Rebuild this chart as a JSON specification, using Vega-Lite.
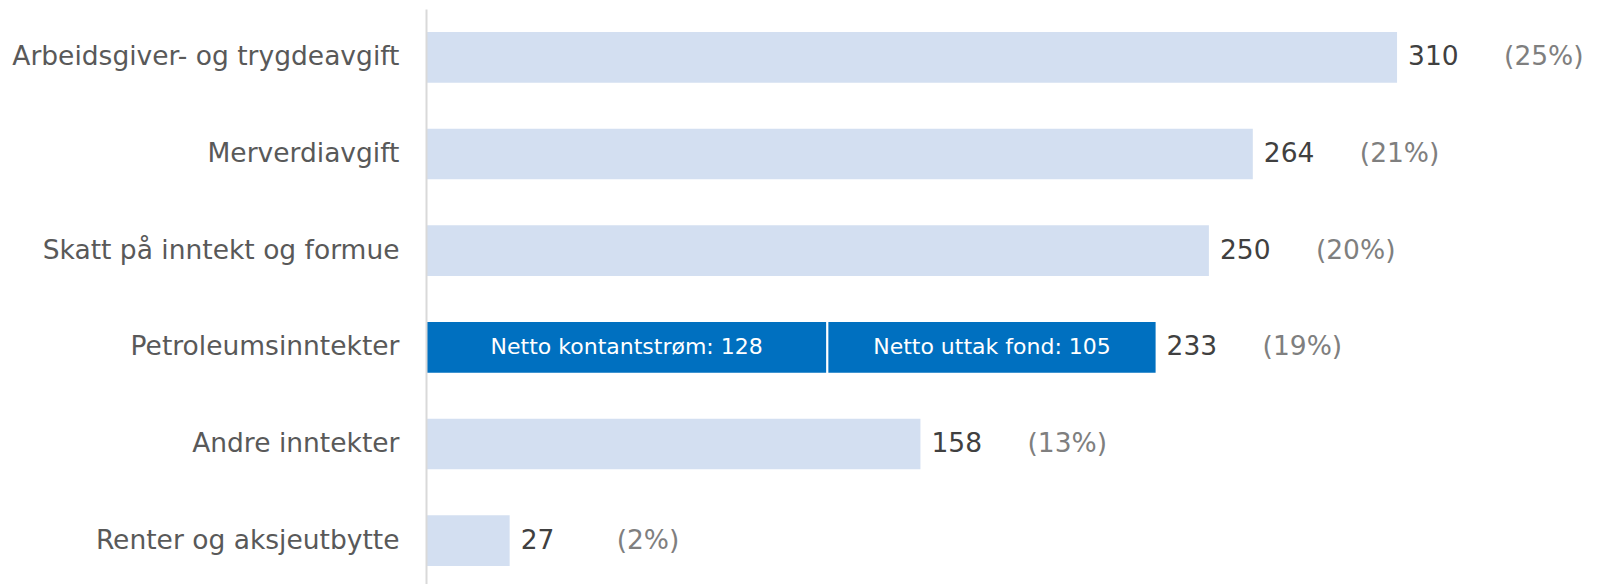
{
  "$schema": "https://vega.github.io/schema/vega-lite/v6.json",
  "width": 1179,
  "height": 580,
  "autosize": {"type": "none"},
  "padding": {"left": 426, "top": 9, "right": 0, "bottom": 0},
  "background": "white",
  "config": {"view": {"stroke": null}, "font": "DejaVu Sans", "text": {"font": "DejaVu Sans"}},
  "datasets": {
    "segmenter": [
      {"kategori": "Arbeidsgiver- og trygdeavgift", "del": "Arbeidsgiver- og trygdeavgift", "type": "annen", "verdi": 310, "tekst": ""},
      {"kategori": "Merverdiavgift", "del": "Merverdiavgift", "type": "annen", "verdi": 264, "tekst": ""},
      {"kategori": "Skatt på inntekt og formue", "del": "Skatt på inntekt og formue", "type": "annen", "verdi": 250, "tekst": ""},
      {"kategori": "Petroleumsinntekter", "del": "Netto kontantstrøm", "type": "petro", "verdi": 128, "tekst": "Netto kontantstrøm: 128"},
      {"kategori": "Petroleumsinntekter", "del": "Netto uttak fond", "type": "petro", "verdi": 105, "tekst": "Netto uttak fond: 105"},
      {"kategori": "Andre inntekter", "del": "Andre inntekter", "type": "annen", "verdi": 158, "tekst": ""},
      {"kategori": "Renter og aksjeutbytte", "del": "Renter og aksjeutbytte", "type": "annen", "verdi": 27, "tekst": ""}
    ],
    "summer": [
      {"kategori": "Arbeidsgiver- og trygdeavgift", "sum": 310, "andel": "(25%)"},
      {"kategori": "Merverdiavgift", "sum": 264, "andel": "(21%)"},
      {"kategori": "Skatt på inntekt og formue", "sum": 250, "andel": "(20%)"},
      {"kategori": "Petroleumsinntekter", "sum": 233, "andel": "(19%)"},
      {"kategori": "Andre inntekter", "sum": 158, "andel": "(13%)"},
      {"kategori": "Renter og aksjeutbytte", "sum": 27, "andel": "(2%)"}
    ]
  },
  "layer": [
    {
      "data": {"name": "segmenter"},
      "mark": {"type": "bar", "stroke": "white", "strokeWidth": 2},
      "encoding": {
        "y": {
          "field": "kategori", "type": "nominal",
          "sort": ["Arbeidsgiver- og trygdeavgift", "Merverdiavgift", "Skatt på inntekt og formue", "Petroleumsinntekter", "Andre inntekter", "Renter og aksjeutbytte"],
          "scale": {"paddingInner": 0.455, "paddingOuter": 0.2275},
          "axis": {"title": null, "ticks": false, "domain": true, "domainColor": "#D9D9D9", "domainWidth": 2, "labelPadding": 27, "labelFontSize": 26.5, "labelColor": "#595959", "labelLimit": 0, "labelFont": "DejaVu Sans", "grid": false, "zindex": 1}
        },
        "x": {"field": "verdi", "type": "quantitative", "stack": "zero", "scale": {"domain": [0, 376], "nice": false}, "axis": null},
        "order": {"field": "del", "sort": "ascending"},
        "color": {"field": "type", "type": "nominal", "scale": {"domain": ["annen", "petro"], "range": ["#D3DFF1", "#0070C0"]}, "legend": null}
      }
    },
    {
      "data": {"name": "segmenter"},
      "transform": [
        {"stack": "verdi", "groupby": ["kategori"], "sort": [{"field": "del", "order": "ascending"}], "as": ["v0", "v1"]},
        {"filter": "datum.type === 'petro'"},
        {"calculate": "(datum.v0 + datum.v1) / 2", "as": "midt"}
      ],
      "mark": {"type": "text", "color": "white", "fontSize": 22, "align": "center", "baseline": "middle", "font": "DejaVu Sans"},
      "encoding": {
        "y": {"field": "kategori", "type": "nominal", "sort": ["Arbeidsgiver- og trygdeavgift", "Merverdiavgift", "Skatt på inntekt og formue", "Petroleumsinntekter", "Andre inntekter", "Renter og aksjeutbytte"]},
        "x": {"field": "midt", "type": "quantitative"},
        "text": {"field": "tekst"}
      }
    },
    {
      "data": {"name": "summer"},
      "mark": {"type": "text", "color": "#404040", "fontSize": 26.5, "align": "left", "baseline": "middle", "dx": 10, "font": "DejaVu Sans"},
      "encoding": {
        "y": {"field": "kategori", "type": "nominal", "sort": ["Arbeidsgiver- og trygdeavgift", "Merverdiavgift", "Skatt på inntekt og formue", "Petroleumsinntekter", "Andre inntekter", "Renter og aksjeutbytte"]},
        "x": {"field": "sum", "type": "quantitative"},
        "text": {"field": "sum"}
      }
    },
    {
      "data": {"name": "summer"},
      "mark": {"type": "text", "color": "#7F7F7F", "fontSize": 26.5, "align": "left", "baseline": "middle", "dx": 106, "font": "DejaVu Sans"},
      "encoding": {
        "y": {"field": "kategori", "type": "nominal", "sort": ["Arbeidsgiver- og trygdeavgift", "Merverdiavgift", "Skatt på inntekt og formue", "Petroleumsinntekter", "Andre inntekter", "Renter og aksjeutbytte"]},
        "x": {"field": "sum", "type": "quantitative"},
        "text": {"field": "andel"}
      }
    }
  ]
}
